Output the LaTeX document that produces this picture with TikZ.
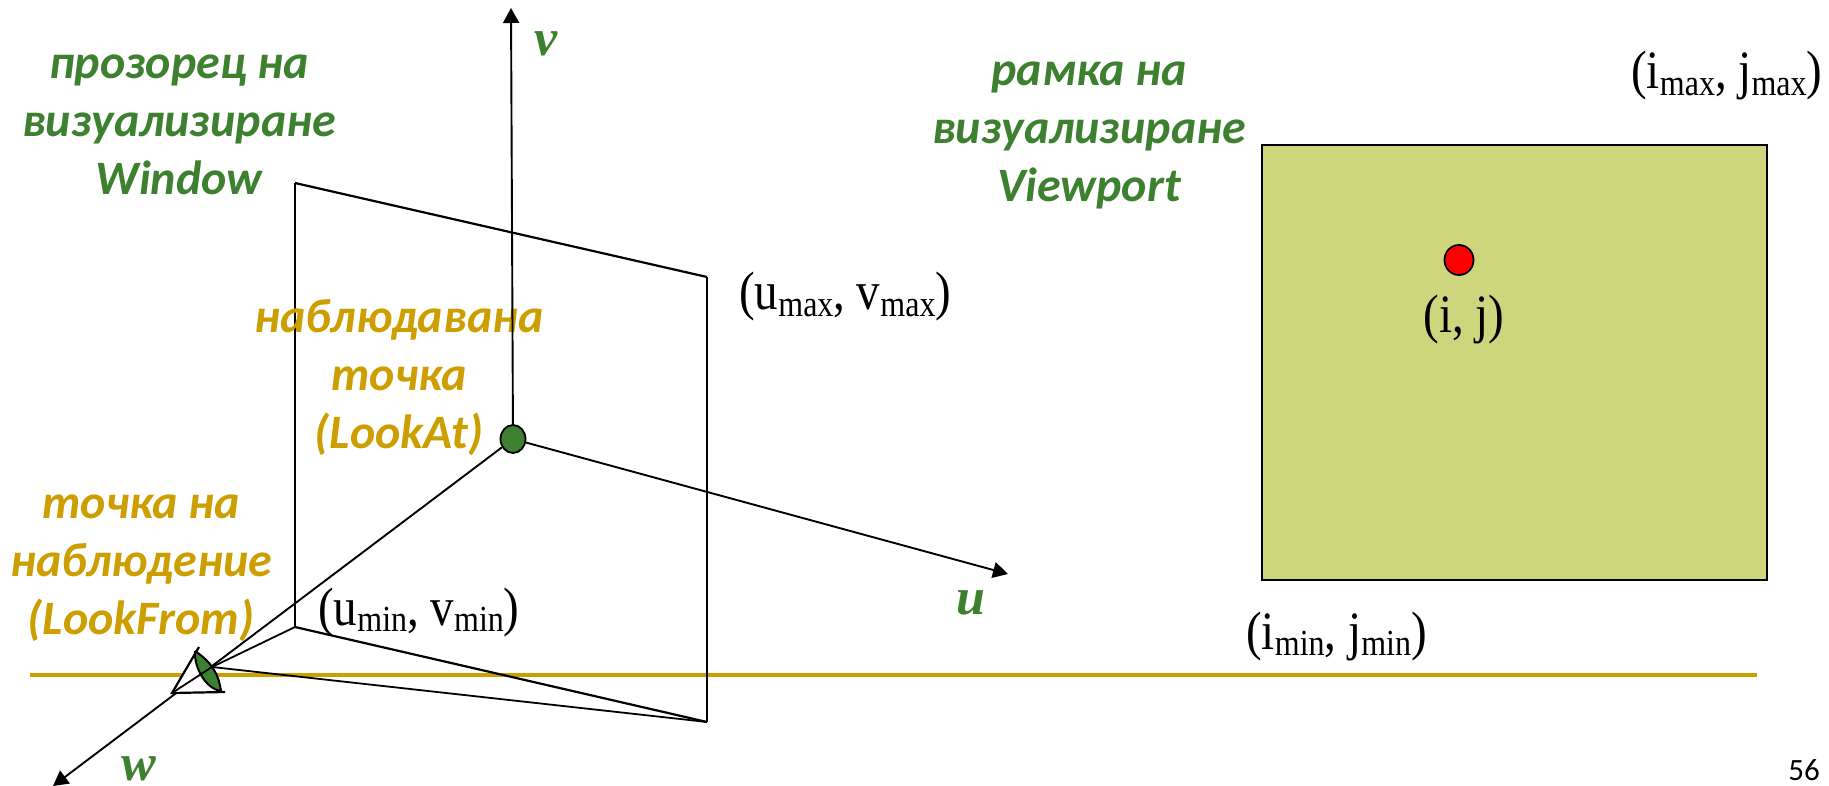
\documentclass[tikz,border=0pt]{standalone}
\usepackage{fontspec}
\usepackage{graphicx}
\setmainfont{Liberation Serif}
\newfontfamily\lbl{Carlito}[BoldFont=Carlito Bold,BoldItalicFont=Carlito Bold Italic,ItalicFont=Carlito Italic]
\usetikzlibrary{arrows.meta,shapes.geometric}
\definecolor{lblgreen}{HTML}{3D8030}
\definecolor{lblgold}{HTML}{CC9E00}
\definecolor{vpfill}{HTML}{CDD67D}
\newcommand{\lowsub}[1]{\raisebox{-6pt}{\fontsize{32}{32}\selectfont #1}}
\newcommand{\tallcoord}[1]{\scalebox{1}[1.15]{#1}}
\tikzset{
  x=1pt,y=-1pt,
  axis/.style={draw=black,line width=1.9pt,-{Triangle[length=15pt,width=16pt]}},
  edge/.style={draw=black,line width=1.4pt},
  ray/.style={draw=black,line width=1.8pt},
  thick edge/.style={draw=black,line width=2.2pt},
  greenlbl/.style={text=lblgreen,font=\lbl\bfseries\itshape\fontsize{48}{58}\selectfont,align=center,inner sep=0pt},
  goldlbl/.style={text=lblgold,font=\lbl\bfseries\itshape\fontsize{48}{58}\selectfont,align=center,inner sep=0pt},
  axislbl/.style={text=lblgreen,font=\bfseries\itshape\fontsize{52}{52}\selectfont,inner sep=0pt},
  coord/.style={text=black,font=\fontsize{47}{47}\selectfont,inner sep=0pt,anchor=base west},
  dot/.style={ellipse,draw=black,line width=1.8pt,inner sep=0pt},
}
\begin{document}
\begin{tikzpicture}
\useasboundingbox (0,0) rectangle (1829,786);
\coordinate (tl) at (295,183);
\coordinate (tr) at (707,277);
\coordinate (br) at (707,722);
\coordinate (bl) at (295,627);
\coordinate (vtip) at (511,8);
\coordinate (utip) at (1008,574);
\coordinate (wtip) at (53,786);
\coordinate (eye) at (212,667);
\coordinate (apex) at (172,693);
\coordinate (etop) at (199,647);
\coordinate (ebot) at (225,692);
\coordinate (linea) at (30,675);
\coordinate (lineb) at (1757,675);
% gold rule
\draw[draw=lblgold,line width=4.5pt] (linea) -- (lineb);
% window
\draw[edge] (tl) -- (bl);
\draw[ray] (br) -- (tr);
\draw[thick edge] (tl) -- (tr);
\draw[thick edge] (bl) -- (br);
% rays
\draw[ray] (eye) -- (bl);
\draw[ray] (eye) -- (br);
% labels under the dot
\node[goldlbl] (lookat) at (399,378) {наблюдавана\\точка\\(LookAt)};
\node[goldlbl] (lookfrom) at (141,568) {точка на\\наблюдение\\(LookFrom)};
\node[greenlbl] (window) at (179,125) {прозорец на\\визуализиране\\Window};
\node[greenlbl] (viewp) at (1089,135) {рамка на\\визуализиране\\Viewport};
% axes
\node[dot,fill=lblgreen,minimum width=25pt,minimum height=28pt] (o) at (513,439) {};
\draw[axis] (o) -- (vtip);
\draw[axis] (o) -- (utip);
\draw[axis] (o) -- (wtip);
% eye
\draw[line width=2.2pt,fill=white] (etop) -- (apex) -- (ebot);
\draw[line width=2pt,fill=lblgreen] (195,651) .. controls (213,663) and (219,676) .. (221,691) .. controls (206,689) and (194,668) .. (195,651);
\draw[ray] (eye) -- (apex);
% axis labels
\node[axislbl] (vl) at (546,44) {v};
\node[axislbl] (ul) at (971,603) {u};
\node[axislbl] (wl) at (139,769) {w};
% viewport
\node[draw=black,line width=2.2pt,fill=vpfill,inner sep=0pt,minimum width=505pt,minimum height=435pt] (vp) at (1514.5,362.5) {};
\node[dot,fill=red,minimum width=29pt,minimum height=30pt] (pix) at (1459,260) {};
\node[coord,anchor=base] (pixl) at (1464,333) {\tallcoord{(i, j)}};
% coords
\node[coord] (umax) at (739,310) {\tallcoord{(u\lowsub{max}, v\lowsub{max})}};
\node[coord] (umin) at (318,625) {\tallcoord{(u\lowsub{min}, v\lowsub{min})}};
\node[coord] (imax) at (1631,89) {\tallcoord{(i\lowsub{max}, j\lowsub{max})}};
\node[coord] (imin) at (1246,649) {\tallcoord{(i\lowsub{min}, j\lowsub{min})}};
\node[text=black,font=\lbl\fontsize{31}{31}\selectfont,inner sep=0pt] (num) at (1804,770) {56};
\end{tikzpicture}
\end{document}
